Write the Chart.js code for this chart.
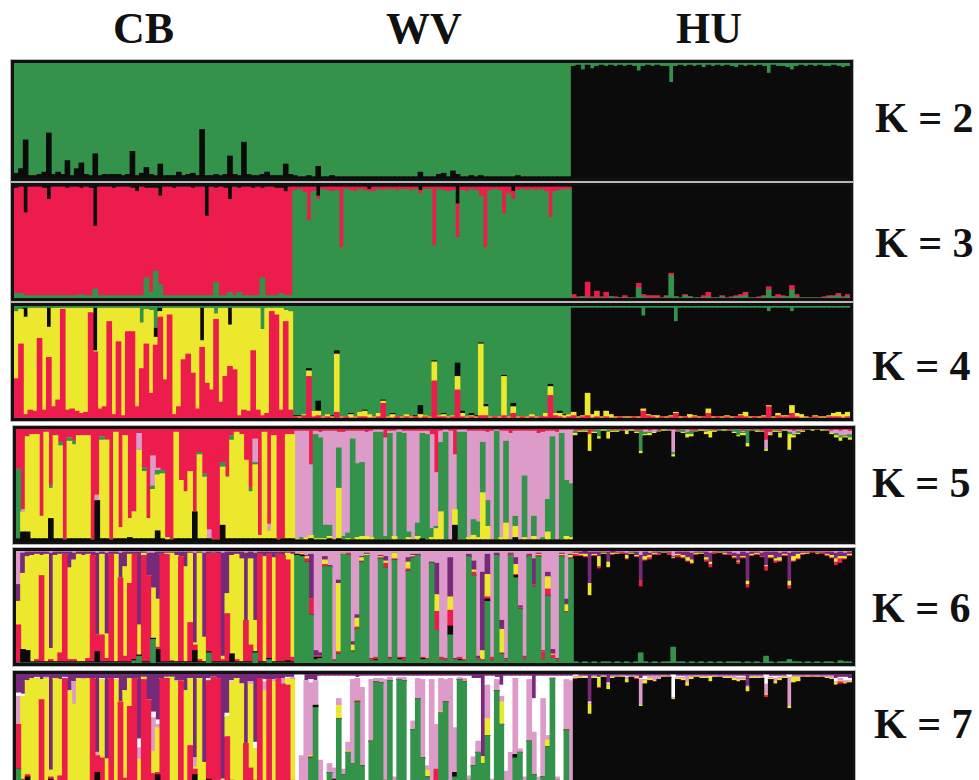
<!DOCTYPE html>
<html>
<head>
<meta charset="utf-8">
<script src="https://cdn.jsdelivr.net/npm/chart.js@4.4.1/dist/chart.umd.min.js"></script>
<style>
  body { margin: 0; background: #fff; width: 979px; height: 780px; overflow: hidden; position: relative; }
  .pop, .klab { position: absolute; font-family: "Liberation Serif", "Times New Roman", serif; font-weight: bold; color: #111; line-height: 1; white-space: nowrap; }
  .pop { font-size: 44px; top: 7px; }
  .klab { font-size: 42px; }
  .panel { position: absolute; box-sizing: border-box; border: 3px solid #111; outline: 1px solid #b8b8b8; width: 842px; height: 118px; }
  .panel canvas { display: block; }
</style>
</head>
<body>
<div class="pop" style="left:113px">CB</div>
<div class="pop" style="left:386px">WV</div>
<div class="pop" style="left:676px">HU</div>

<div class="panel" style="left:11px; top:60px; height:121px"><canvas id="k2" width="836" height="115"></canvas></div>
<div class="panel" style="left:11px; top:183px"><canvas id="k3" width="836" height="112"></canvas></div>
<div class="panel" style="left:11px; top:303px"><canvas id="k4" width="836" height="112"></canvas></div>
<div class="panel" style="left:13px; top:426px"><canvas id="k5" width="836" height="112"></canvas></div>
<div class="panel" style="left:13px; top:548px"><canvas id="k6" width="836" height="112"></canvas></div>
<div class="panel" style="left:13px; top:671px"><canvas id="k7" width="836" height="112"></canvas></div>

<div class="klab" style="left:875px; top:97px">K = 2</div>
<div class="klab" style="left:875px; top:222px">K = 3</div>
<div class="klab" style="left:872px; top:345px">K = 4</div>
<div class="klab" style="left:872px; top:462px">K = 5</div>
<div class="klab" style="left:872px; top:587px">K = 6</div>
<div class="klab" style="left:874px; top:703px">K = 7</div>

<script>
var BLACK = '#0b0b0b', GREEN = '#34934a', RED = '#ec1c4c', YELLOW = '#ebe82e',
    PINK = '#dc9bc9', PURPLE = '#77297a', WHITE = '#ffffff';

var populations = ['CB', 'WV', 'HU'];

// membership (%) per individual, clusters listed bottom -> top;
// the last (top) cluster of each K is whatever is left up to 100

// K = 2 : [black]  (green on top)
var k2CB = [4,8,33,2,2,3,5,39,3,5, 3,15,2,8,13,3,2,21,2,3, 3,3,3,2,3,23,2,4,9,3, 2,12,2,2,2,5,2,3,4,2, 42,2,2,3,2,3,19,3,2,31, 3,2,2,3,5,2,2,2,12,3];
var k2WV = [2,1,1,2,1,10,1,1,2,1, 1,1,1,1,1,1,1,1,1,1, 1,1,1,1,1,1,1,5,1,1, 1,3,4,1,6,3,1,1,2,1, 2,1,1,1,1,1,1,1,2,1, 1,1,1,1,1,1,1,1,1,1];
var k2HU = [97,98,94,98,95,97,98,97,98,97, 98,97,98,97,93,97,98,97,98,97, 97,83,97,98,97,98,97,98,96,98, 97,98,97,98,97,96,98,97,98,97, 98,97,91,98,97,97,96,94,97,98, 97,98,97,98,97,97,98,97,96,97];

// K = 3 : [green, red]  (black on top)
var k3CB = [[4,94],[4,95],[2,74],[2,97],[2,97],[2,97],[2,96],[2,86],[2,97],[2,97],
  [2,97],[2,96],[2,97],[2,97],[3,95],[2,97],[2,96],[8,56],[2,97],[2,97],
  [2,97],[2,96],[2,97],[2,97],[2,97],[2,96],[2,93],[2,97],[18,80],[5,93],
  [24,74],[12,79],[2,97],[2,97],[2,96],[2,97],[2,97],[2,97],[2,96],[2,97],
  [2,97],[2,71],[2,97],[14,84],[2,97],[2,96],[5,83],[2,97],[5,93],[2,97],
  [2,97],[2,96],[2,97],[18,80],[2,97],[2,97],[2,96],[4,94],[2,93],[2,97]];
var k3WV = [[96,3],[97,2],[94,5],[69,30],[95,4],[88,3],[97,2],[96,3],[95,4],[96,3],
  [45,54],[97,2],[96,3],[95,4],[97,2],[96,3],[95,2],[95,4],[97,2],[96,3],
  [97,2],[97,2],[96,3],[97,2],[97,2],[96,3],[97,2],[93,3],[97,2],[97,2],
  [47,52],[97,2],[96,3],[95,4],[96,3],[54,30],[96,3],[95,4],[97,2],[96,3],
  [91,8],[45,54],[96,3],[97,2],[96,3],[75,24],[93,6],[88,7],[96,3],[97,2],
  [96,3],[97,2],[96,3],[97,2],[95,4],[72,27],[95,4],[96,3],[97,2],[97,2]];
var k3HU = [[0,3],[0,1],[1,0],[0,14],[0,1],[0,6],[0,1],[0,5],[1,0],[0,1],
  [0,0],[0,2],[0,0],[0,0],[9,4],[1,2],[0,2],[0,2],[0,2],[0,0],
  [1,1],[20,2],[1,0],[0,0],[2,1],[1,0],[0,0],[0,0],[0,2],[1,4],
  [0,0],[0,0],[1,1],[0,0],[0,1],[1,1],[1,2],[2,3],[0,0],[0,0],
  [0,1],[1,1],[7,3],[1,0],[0,3],[1,1],[1,0],[7,4],[1,2],[0,0],
  [0,0],[0,0],[0,0],[0,0],[0,1],[1,1],[1,1],[2,2],[0,1],[1,2]];

// K = 4 : [red, yellow, black]  (green on top)
var k4CB = [[35,60,0],[66,31,0],[3,87,8],[7,91,0],[6,92,0],[71,27,0],[7,91,0],[54,27,17],[10,88,0],[16,82,0],
  [97,1,0],[7,91,0],[8,90,0],[6,92,0],[4,94,0],[5,93,0],[94,4,0],[59,1,38],[8,90,0],[10,88,0],
  [86,12,0],[3,95,0],[68,30,0],[2,96,0],[77,21,0],[77,21,0],[10,88,0],[44,41,0],[66,31,0],[22,74,0],
  [65,7,8],[90,5,3],[34,64,0],[92,6,0],[3,95,0],[10,88,0],[52,46,0],[57,41,0],[40,58,0],[8,90,0],
  [63,6,29],[31,67,0],[25,73,0],[88,5,0],[14,84,0],[37,61,0],[46,37,15],[43,55,0],[2,96,0],[7,91,0],
  [6,92,0],[60,38,0],[7,91,0],[2,77,0],[4,94,0],[95,3,0],[92,6,0],[7,91,0],[86,10,0],[7,88,0]];
var k4WV = [[1,0,1],[0,1,1],[2,1,0],[37,5,2],[1,5,0],[2,4,9],[0,1,0],[1,2,0],[0,1,1],[5,52,3],
  [0,1,0],[1,0,0],[0,3,1],[0,1,0],[1,4,0],[1,5,1],[0,3,0],[0,1,0],[1,3,0],[13,2,1],
  [0,1,0],[0,3,1],[1,0,0],[0,1,0],[1,2,0],[0,1,0],[1,0,1],[0,3,8],[1,1,0],[0,1,0],
  [33,17,1],[1,1,0],[1,2,1],[0,1,0],[1,1,0],[25,12,12],[1,3,2],[0,1,0],[1,1,2],[0,1,1],
  [2,64,1],[2,8,2],[0,1,0],[1,0,0],[0,1,0],[2,35,1],[0,1,0],[4,6,3],[0,1,0],[1,0,0],
  [0,1,0],[1,2,0],[0,1,0],[1,0,0],[1,3,0],[20,8,2],[2,2,0],[1,3,2],[0,2,1],[1,2,0]];
var k4HU = [[2,3,93],[0,1,97],[1,1,96],[2,20,76],[0,3,95],[1,5,92],[0,1,97],[1,5,92],[0,3,95],[0,1,97],
  [1,0,97],[0,1,97],[0,1,97],[1,0,97],[0,1,97],[6,2,83],[2,1,95],[1,1,96],[0,2,96],[1,0,97],
  [0,1,97],[1,1,96],[4,1,81],[0,1,97],[1,0,97],[0,3,95],[1,1,96],[0,1,97],[1,0,97],[4,4,90],
  [0,1,97],[1,0,97],[0,1,97],[1,1,96],[0,1,97],[1,0,97],[2,1,95],[1,4,93],[0,1,97],[1,0,97],
  [0,1,97],[1,1,96],[10,1,84],[0,1,97],[2,2,94],[1,1,96],[1,1,96],[4,7,84],[1,3,94],[0,3,95],
  [0,1,97],[0,0,98],[1,1,96],[0,1,97],[0,1,97],[1,1,96],[1,3,94],[1,4,93],[0,3,95],[1,4,93]];

// K = 5 : [black, yellow, green, pink]  (red on top)
var k5CB = [[2,0,62,0],[8,18,0,2],[8,85,0,0],[2,93,0,0],[2,93,0,0],[2,20,0,0],[2,95,0,0],[20,27,2,0],[2,92,0,0],[2,83,3,0],
  [1,0,0,0],[2,87,3,0],[2,84,3,0],[2,92,0,0],[2,92,0,0],[2,92,0,0],[1,0,0,0],[36,0,0,5],[2,88,3,0],[2,88,0,0],
  [1,0,0,0],[2,95,0,0],[2,10,0,0],[2,92,0,0],[3,17,0,0],[2,24,0,0],[2,79,0,15],[2,60,3,0],[2,18,0,0],[2,44,3,27],
  [9,50,4,2],[2,58,3,0],[1,2,0,0],[1,0,0,0],[2,95,0,0],[2,52,0,0],[2,42,0,0],[2,60,0,0],[26,0,0,0],[2,75,2,0],
  [2,55,3,0],[2,0,0,8],[1,0,0,0],[1,0,0,0],[14,52,4,0],[2,55,0,0],[2,88,4,0],[2,95,0,0],[2,93,0,0],[2,70,0,0],
  [2,42,3,0],[2,66,2,21],[2,3,0,0],[2,95,0,0],[2,7,0,6],[2,92,0,0],[1,0,0,0],[2,0,0,0],[2,93,0,0],[2,93,0,0]];
var k5WV = [[1,1,0,96],[1,0,2,95],[1,2,0,95],[2,3,0,63],[1,1,93,3],[1,1,90,5],[1,1,12,84],[2,2,10,84],[1,0,0,97],[2,45,36,14],
  [1,0,3,93],[1,1,5,91],[1,0,90,7],[1,2,66,29],[1,3,66,28],[1,3,0,93],[1,2,0,95],[1,0,96,2],[1,0,96,2],[1,0,3,88],
  [1,0,95,2],[1,3,0,94],[1,0,96,2],[1,0,95,2],[1,2,5,90],[1,0,0,97],[1,3,12,82],[2,0,94,2],[1,0,94,3],[1,2,8,84],
  [1,10,2,48],[1,25,62,10],[1,0,96,2],[1,0,0,97],[14,14,0,49],[1,0,96,2],[1,0,96,2],[1,2,0,95],[1,4,14,79],[1,2,14,81],
  [1,42,45,10],[1,12,23,61],[1,0,0,97],[1,0,97,1],[1,2,0,95],[1,15,73,9],[1,0,0,95],[3,10,9,76],[1,0,0,97],[1,2,55,40],
  [1,0,0,97],[1,3,18,76],[1,0,0,95],[1,0,2,94],[1,7,29,61],[1,0,92,5],[1,0,0,96],[1,0,95,3],[1,3,50,45],[1,2,48,48]];
var k5HU = [[94,2,2,0],[97,1,0,0],[97,1,1,0],[80,15,0,0],[96,1,1,0],[91,2,6,0],[98,1,0,0],[91,6,2,0],[97,1,0,0],[97,1,1,0],
  [98,0,0,0],[95,3,0,1],[98,1,0,0],[96,1,1,0],[78,2,18,0],[94,1,2,2],[94,2,1,1],[96,1,0,2],[97,0,1,0],[98,1,0,0],
  [98,0,0,1],[75,2,2,20],[97,0,1,0],[96,1,2,0],[92,3,2,2],[93,2,3,0],[97,0,1,0],[98,1,0,0],[95,2,1,1],[92,6,1,0],
  [97,1,0,0],[98,0,1,0],[98,1,0,0],[98,0,0,0],[96,1,2,0],[93,1,5,0],[94,2,1,1],[84,3,12,0],[98,0,0,0],[97,1,1,0],
  [97,0,0,1],[80,2,0,8],[94,1,0,2],[97,1,1,0],[92,4,1,1],[98,1,0,0],[81,14,2,2],[92,2,1,3],[95,1,2,1],[97,1,0,0],
  [99,0,0,0],[98,1,0,0],[99,0,0,0],[98,1,0,0],[98,0,0,1],[95,1,0,2],[92,2,2,3],[89,3,2,4],[92,1,1,5],[90,2,3,3]];

// K = 6 : [green, black, red, yellow, purple]  (pink on top)
var k6CB = [[0,0,34,21,15],[0,12,0,68,18],[0,11,0,84,4],[0,1,0,95,3],[0,1,2,94,2],[0,1,77,18,3],[0,1,0,96,2],[0,1,2,10,85],[0,1,0,95,3],[0,1,8,88,2],
  [0,1,96,0,2],[0,1,2,82,14],[0,1,2,89,6],[0,1,0,96,2],[0,1,0,95,3],[0,1,3,93,2],[0,1,95,0,3],[0,10,15,0,73],[0,1,24,72,2],[0,1,3,22,72],
  [0,1,96,0,2],[0,1,0,96,2],[0,1,75,0,22],[0,1,5,80,13],[0,1,70,26,2],[2,1,94,0,2],[6,1,0,27,65],[0,1,95,2,1],[0,1,77,0,20],[21,1,0,45,31],
  [0,12,2,43,42],[0,1,96,0,2],[0,1,96,1,1],[0,1,1,96,1],[0,1,0,95,3],[0,1,94,0,4],[0,1,0,85,13],[0,1,35,62,1],[0,11,5,2,80],[0,1,2,95,1],
  [0,1,0,22,75],[9,1,87,0,2],[0,1,97,0,1],[0,1,96,0,2],[0,1,2,3,92],[0,1,43,18,37],[0,8,0,88,3],[0,1,2,94,2],[0,1,0,92,6],[0,1,37,0,60],
  [0,1,15,77,6],[9,1,0,28,60],[0,1,96,0,2],[0,1,0,94,4],[3,1,93,0,2],[0,1,0,93,5],[0,1,96,0,2],[0,1,95,0,3],[0,2,90,6,1],[0,1,4,92,2]];
var k6WV = [[96,1,0,0,0],[95,1,1,1,0],[90,0,3,2,1],[43,0,14,0,40],[3,2,1,0,5],[4,1,1,0,3],[86,0,2,4,3],[86,0,0,0,1],[2,0,1,0,0],[8,0,2,61,3],
  [97,0,0,1,0],[96,0,1,0,1],[10,0,1,5,3],[30,0,2,8,3],[90,0,1,3,1],[96,0,0,1,1],[2,0,1,0,1],[2,1,2,0,0],[93,0,1,1,1],[85,0,4,2,4],
  [3,0,1,0,1],[92,0,1,5,0],[3,1,1,0,0],[2,0,2,0,1],[82,0,2,6,4],[94,0,1,1,1],[96,0,0,0,1],[3,1,1,0,0],[3,0,1,0,0],[89,0,0,0,1],
  [29,0,17,15,28],[3,0,2,0,0],[2,0,1,0,1],[25,8,14,12,35],[3,0,0,0,1],[2,1,2,0,0],[2,0,1,0,0],[95,0,0,0,2],[78,0,3,2,8],[3,0,1,0,2],
  [2,0,1,8,70],[55,2,2,20,18],[2,0,3,0,0],[96,0,0,0,2],[8,0,1,21,8],[2,0,1,0,1],[96,0,1,0,1],[76,2,1,9,6],[48,0,1,0,2],[3,0,2,0,1],
  [95,0,1,0,1],[68,0,2,0,23],[95,0,1,1,1],[3,0,7,0,1],[60,0,6,11,4],[4,0,3,1,4],[2,0,1,0,1],[95,0,1,1,1],[45,0,1,6,5],[93,0,1,2,1]];
var k6HU = [[1,94,2,1,1],[0,95,1,1,2],[1,93,1,2,3],[0,60,0,11,28],[1,94,1,1,2],[0,84,2,9,4],[1,96,0,1,1],[1,84,0,5,9],[0,96,1,1,2],[1,96,0,1,1],
  [0,97,1,0,1],[1,91,1,3,2],[0,97,0,1,1],[1,93,1,1,3],[9,59,5,0,23],[1,90,1,3,4],[0,92,2,2,2],[1,95,1,1,1],[0,96,1,0,2],[1,97,0,1,1],
  [1,95,2,0,1],[14,79,0,1,1],[1,93,2,1,2],[1,92,1,2,3],[0,90,1,3,5],[1,87,1,3,6],[0,96,1,1,1],[1,96,0,1,1],[0,90,2,2,5],[1,84,3,2,8],
  [0,97,1,0,1],[1,97,0,1,1],[0,96,1,1,1],[1,95,1,0,2],[1,92,1,1,3],[1,87,2,1,6],[0,93,1,1,4],[1,66,3,3,25],[0,95,1,1,2],[1,95,1,1,1],
  [0,94,1,0,3],[6,76,4,1,12],[1,92,1,2,3],[0,89,2,2,6],[1,89,1,3,4],[1,94,1,1,2],[3,63,3,4,25],[1,89,1,4,4],[1,91,1,4,2],[0,96,1,1,1],
  [1,96,0,1,1],[0,98,1,0,1],[1,96,0,1,1],[0,97,1,0,1],[1,94,1,1,2],[1,92,1,2,3],[0,87,3,3,5],[2,87,4,2,4],[1,91,1,2,3],[1,94,1,1,2]];

// K = 7 : [green, black, red, yellow, pink, white]  (purple on top)
var k7CB = [[15,0,40,0,25,3],[0,4,2,74,0,2],[0,8,2,84,0,0],[0,1,2,93,0,0],[0,1,2,93,0,1],[0,1,76,18,0,0],[0,1,2,93,1,0],[0,6,2,6,0,0],[0,1,0,95,0,0],[0,1,8,86,0,0],
  [0,1,95,0,0,1],[0,1,2,82,0,0],[0,1,2,70,20,0],[0,1,0,95,0,0],[0,1,0,94,1,0],[0,1,3,92,0,0],[0,1,95,0,0,0],[0,12,15,0,3,0],[0,1,24,70,0,1],[0,1,3,20,0,0],
  [0,1,95,0,0,0],[0,1,0,94,0,1],[0,1,74,0,0,0],[0,2,5,78,0,0],[0,1,70,25,0,0],[2,1,93,0,0,0],[3,1,0,20,10,8],[0,1,94,2,0,0],[0,1,76,0,0,0],[0,1,10,20,30,5],
  [0,10,2,40,3,4],[0,1,95,0,0,0],[0,1,95,1,0,0],[0,1,1,95,0,0],[0,1,0,92,1,0],[0,1,93,0,0,0],[0,1,0,84,0,0],[0,1,35,60,0,0],[0,10,5,2,8,0],[0,1,2,93,0,0],
  [0,1,0,20,0,0],[5,1,88,0,0,2],[0,1,96,0,0,0],[0,1,95,0,0,0],[0,1,2,3,0,0],[0,1,43,18,0,3],[0,5,0,88,0,1],[0,1,2,93,0,0],[0,1,0,90,0,0],[0,1,37,0,0,0],
  [0,1,15,75,2,0],[4,1,0,28,0,6],[0,1,95,0,0,0],[0,1,0,84,8,2],[2,1,92,0,0,0],[0,1,0,92,2,0],[0,1,95,0,0,0],[0,1,90,0,5,0],[0,2,88,6,0,1],[0,1,4,90,2,0]];
var k7WV = [[0,0,1,1,3,94],[2,0,0,0,25,72],[3,0,1,0,90,0],[25,0,1,1,65,3],[70,2,0,0,22,0],[3,0,0,0,20,75],[2,0,0,0,3,93],[12,0,0,0,8,78],[5,1,0,0,10,82],[60,0,0,12,6,20],
  [10,0,0,0,5,83],[30,0,0,1,8,59],[20,0,0,0,75,3],[75,0,1,0,20,1],[18,0,0,0,70,10],[2,0,0,0,2,94],[40,0,0,0,55,3],[93,0,0,0,3,2],[92,0,0,0,4,2],[5,0,0,0,90,3],
  [94,0,0,0,3,1],[2,0,0,2,4,90],[95,0,0,0,2,1],[94,0,0,0,3,1],[3,0,0,0,2,93],[50,0,0,0,8,40],[78,0,0,0,18,2],[25,0,0,0,70,3],[8,0,0,6,4,80],[3,0,0,0,92,3],
  [3,0,12,0,40,43],[65,0,0,1,30,2],[75,0,0,0,20,3],[3,0,0,0,93,2],[8,4,0,0,40,46],[95,0,0,0,2,1],[93,0,0,0,3,2],[5,0,0,0,4,89],[18,0,0,0,8,70],[30,0,0,0,10,56],
  [20,0,0,6,0,0],[45,0,0,15,30,8],[3,0,0,0,3,92],[85,0,0,0,10,2],[55,0,0,20,5,10],[3,0,0,0,10,85],[4,0,0,0,26,68],[25,3,0,0,68,2],[30,0,0,0,3,65],[4,0,0,0,4,90],
  [40,0,0,0,55,3],[10,0,0,0,38,30],[3,0,0,0,5,90],[8,0,0,0,70,20],[35,0,0,6,4,53],[96,0,0,0,1,1],[5,0,0,0,3,90],[3,0,0,0,2,93],[50,0,0,0,45,3],[4,0,0,0,90,4]];
var k7HU = [[0,95,1,1,1,1],[0,96,0,1,1,0],[1,95,0,1,0,1],[0,64,0,9,1,1],[0,96,0,1,1,0],[1,86,1,8,0,1],[0,97,0,1,0,0],[3,83,0,4,1,1],[0,96,0,1,1,0],[1,96,0,0,1,0],
  [0,97,0,1,0,0],[0,92,0,3,2,1],[1,96,0,0,1,0],[0,95,1,1,1,0],[3,68,0,1,23,1],[0,91,0,3,1,3],[1,93,0,2,2,0],[0,93,0,1,4,0],[0,95,0,0,3,0],[1,96,0,1,0,0],
  [0,97,0,0,1,0],[1,76,0,1,1,20],[0,95,0,1,1,1],[1,93,0,2,1,1],[0,89,0,3,6,0],[1,94,0,2,1,0],[0,97,0,1,0,0],[0,96,0,1,1,0],[1,95,0,1,1,0],[3,90,0,4,0,1],
  [0,97,0,1,0,0],[1,96,0,0,1,0],[0,96,0,1,1,0],[1,95,0,1,1,0],[1,93,0,2,2,0],[3,90,0,2,2,1],[2,92,0,1,2,1],[4,80,0,4,1,0],[0,96,0,1,1,0],[1,95,0,1,1,0],
  [0,96,0,0,2,0],[0,79,2,1,9,8],[0,95,0,1,1,1],[1,90,0,2,3,2],[0,94,0,2,1,1],[0,96,0,1,1,0],[1,68,0,2,26,2],[0,92,0,5,1,0],[1,92,0,4,1,0],[0,97,0,0,1,0],
  [0,97,0,1,0,0],[0,97,0,0,1,0],[1,96,0,1,0,0],[0,97,0,0,1,0],[0,96,0,1,1,0],[0,95,0,1,2,0],[0,90,0,2,1,3],[1,90,2,1,2,1],[0,91,0,1,2,3],[0,92,0,1,1,2]];

function drawPanel(id, colours, groups) {
  var rows = [], labels = [];
  groups.forEach(function (g, gi) {
    g.forEach(function (r, j) {
      rows.push([].concat(r));
      labels.push(populations[gi] + ' ' + (j + 1));
    });
  });
  var datasets = colours.map(function (c, ci) {
    return {
      data: rows.map(function (r) {
        if (ci < r.length) return r[ci];
        var s = r.reduce(function (a, b) { return a + b; }, 0);
        return Math.max(0, 100 - s);
      }),
      backgroundColor: c,
      borderWidth: 0,
      barPercentage: 1,
      categoryPercentage: 1,
      inflateAmount: 0.5
    };
  });
  new Chart(document.getElementById(id).getContext('2d'), {
    type: 'bar',
    data: { labels: labels, datasets: datasets },
    options: {
      responsive: false,
      animation: false,
      devicePixelRatio: 1,
      layout: { padding: 0 },
      plugins: { legend: { display: false }, tooltip: { enabled: false } },
      scales: {
        x: { stacked: true, display: false },
        y: { stacked: true, display: false, min: 0, max: 100 }
      }
    }
  });
}

drawPanel('k2', [BLACK, GREEN], [k2CB, k2WV, k2HU]);
drawPanel('k3', [GREEN, RED, BLACK], [k3CB, k3WV, k3HU]);
drawPanel('k4', [RED, YELLOW, BLACK, GREEN], [k4CB, k4WV, k4HU]);
drawPanel('k5', [BLACK, YELLOW, GREEN, PINK, RED], [k5CB, k5WV, k5HU]);
drawPanel('k6', [GREEN, BLACK, RED, YELLOW, PURPLE, PINK], [k6CB, k6WV, k6HU]);
drawPanel('k7', [GREEN, BLACK, RED, YELLOW, PINK, WHITE, PURPLE], [k7CB, k7WV, k7HU]);
</script>
</body>
</html>
